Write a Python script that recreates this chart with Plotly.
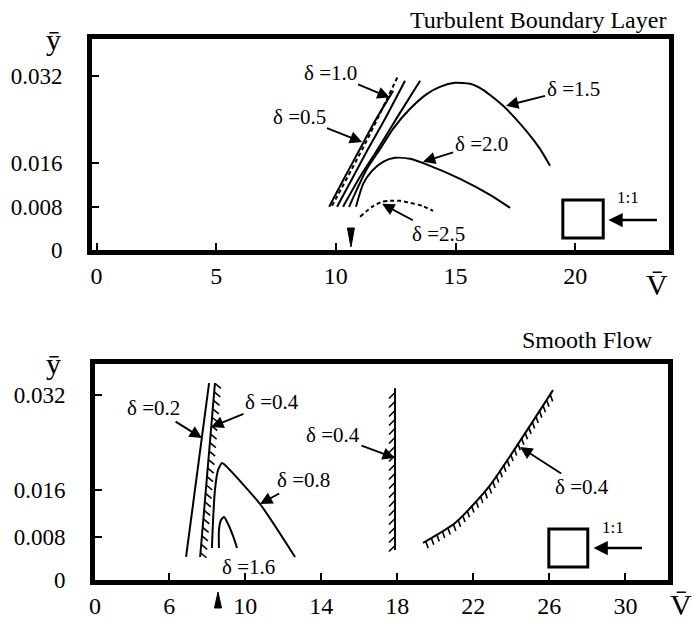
import numpy as np
import plotly.graph_objects as go

W, H = 693, 625
SERIF = "Liberation Serif"

# ---------------- data: top panel (Turbulent Boundary Layer) ----------------
top_xticks = [0, 5, 10, 15, 20]
top_yticks = [0, 0.008, 0.016, 0.032]
top_yticktext = ["0", "0.008", "0.016", "0.032"]

t_d05_x = [9.72, 10.38, 11.01, 11.64, 12.39]
t_d05_y = [0.00796, 0.01349, 0.01865, 0.02381, 0.02934]
t_d10_x = [9.84, 11.22, 12.60]
t_d10_y = [0.00815, 0.01956, 0.0321]
t_l3_x = [10.05, 10.68, 11.35, 12.01, 12.89]
t_l3_y = [0.00796, 0.01312, 0.01865, 0.02381, 0.0312]
t_l4_x = [10.30, 11.01, 11.76, 12.60, 13.52]
t_l4_y = [0.00796, 0.01349, 0.01865, 0.02473, 0.0312]
t_d15_x = [10.55, 10.89, 11.30, 11.85, 12.39, 13.10, 13.81, 14.35, 14.98, 15.61, 16.15, 16.99, 17.99, 18.53, 18.95]
t_d15_y = [0.00796, 0.01128, 0.01497, 0.01865, 0.02234, 0.02603, 0.02879, 0.03008, 0.03082, 0.03064, 0.02953, 0.02658, 0.02179, 0.01865, 0.01552]
t_d20_x = [10.84, 11.14, 11.51, 11.97, 12.47, 13.10, 13.94, 15.19, 16.44, 17.28]
t_d20_y = [0.00796, 0.0122, 0.0146, 0.01626, 0.0170, 0.01681, 0.01552, 0.01312, 0.01017, 0.00778]
t_d25_x = [11.01, 11.51, 11.93, 12.26, 12.68, 13.10, 13.60, 14.06]
t_d25_y = [0.00612, 0.00796, 0.00888, 0.00907, 0.00907, 0.0087, 0.00815, 0.00723]
t_marker_x = 10.63

# ---------------- data: bottom panel (Smooth Flow) ----------------
bot_xticks = [6, 10, 14, 18, 22, 26, 30]
bot_yticks = [0.008, 0.016, 0.032]
bot_yticktext = ["0.008", "0.016", "0.032"]

b_d02_x = [6.89, 8.10]
b_d02_y = [0.0046, 0.03406]
b_d04a_x = [7.63, 8.41]
b_d04a_y = [0.0046, 0.03406]
b_d08_x = [8.25, 8.31, 8.41, 8.57, 8.78, 8.99, 10.78, 12.62]
b_d08_y = [0.00613, 0.01087, 0.01595, 0.01933, 0.02052, 0.02001, 0.01358, 0.0046]
b_d16_x = [8.62, 8.62, 8.73, 8.89, 9.10, 9.36, 9.57]
b_d16_y = [0.00613, 0.00918, 0.01087, 0.01138, 0.01019, 0.00816, 0.00613]
b_d04b_x = [17.88, 17.88]
b_d04b_y = [0.00579, 0.0332]
b_d04c_x = [19.35, 21.04, 22.77, 26.19]
b_d04c_y = [0.00697, 0.01036, 0.01629, 0.03288]
b_marker_x = 8.57


def py2paper(p):
    return 1 - p / H


# ---------------- layout geometry ----------------
TX = [92 / W, 669 / W]
TY = [py2paper(250), py2paper(39)]
BX = [95 / W, 668 / W]
BY = [py2paper(580), py2paper(364)]
T_XR = [-0.19, 23.92]
T_YR = [0.0, 0.0389]
B_XR = [2.1, 32.24]
B_YR = [0.0007, 0.0373]


def scale(dom, rng, total):
    return (dom[1] - dom[0]) * total / (rng[1] - rng[0])


t_sx, t_sy = scale(TX, T_XR, W), scale(TY, T_YR, H)
b_sx, b_sy = scale(BX, B_XR, W), scale(BY, B_YR, H)


def hatch(xs, ys, sx, sy, spacing, dxp, dyp):
    px = np.asarray(xs) * sx
    py = np.asarray(ys) * sy
    seg = np.hypot(np.diff(px), np.diff(py))
    cum = np.concatenate([[0], np.cumsum(seg)])
    s = np.arange(spacing / 2, cum[-1], spacing)
    hx_, hy_ = [], []
    for v in s:
        xp = np.interp(v, cum, px)
        yp = np.interp(v, cum, py)
        hx_ += [xp / sx, (xp + dxp) / sx, None]
        hy_ += [yp / sy, (yp - dyp) / sy, None]
    return hx_, hy_


fig = go.Figure()
LW = 2.0


def line(x, y, xa, ya, dash=None, width=LW):
    fig.add_trace(go.Scatter(x=x, y=y, xaxis=xa, yaxis=ya, mode="lines",
                             line=dict(color="black", width=width, dash=dash, shape="spline", smoothing=0.6),
                             showlegend=False, hoverinfo="skip"))


# top curves
line(t_d05_x, t_d05_y, "x", "y")
line(t_d10_x, t_d10_y, "x", "y", dash="4px,3px")
line(t_l3_x, t_l3_y, "x", "y")
line(t_l4_x, t_l4_y, "x", "y")
line(t_d15_x, t_d15_y, "x", "y")
line(t_d20_x, t_d20_y, "x", "y")
line(t_d25_x, t_d25_y, "x", "y", dash="4px,3px")

# top marker (narrow down-pointing wedge at the axis)
tip_y = 3 / t_sy
top_y = 22 / t_sy
hw = 3.5 / t_sx
fig.add_trace(go.Scatter(x=[t_marker_x - hw, t_marker_x + hw, t_marker_x, t_marker_x - hw],
                         y=[top_y, top_y, tip_y, top_y], xaxis="x", yaxis="y",
                         mode="lines", fill="toself", fillcolor="black",
                         line=dict(color="black", width=1), showlegend=False, hoverinfo="skip"))

# bottom curves
line(b_d02_x, b_d02_y, "x2", "y2")
line(b_d04a_x, b_d04a_y, "x2", "y2")
line(b_d08_x, b_d08_y, "x2", "y2")
line(b_d16_x, b_d16_y, "x2", "y2")
line(b_d04b_x, b_d04b_y, "x2", "y2")
line(b_d04c_x, b_d04c_y, "x2", "y2")

for (xs, ys, sp, dx, dy) in [
    (b_d04a_x, b_d04a_y, 8.5, 6, 5),
    (b_d04b_x, b_d04b_y, 9, -6, 6),
    (b_d04c_x, b_d04c_y, 6.5, 2.5, 7),
]:
    hx, hy = hatch(xs, ys, b_sx, b_sy, sp, dx, dy)
    fig.add_trace(go.Scatter(x=hx, y=hy, xaxis="x2", yaxis="y2", mode="lines",
                             line=dict(color="black", width=1.6), showlegend=False, hoverinfo="skip"))

# bottom marker (up-pointing wedge below the axis) on a helper axis in pixel units
Y3D = [0.0, 0.07]
hw2 = 3.5 / b_sx
y3_top = Y3D[1] * H
fig.add_trace(go.Scatter(x=[b_marker_x - hw2, b_marker_x + hw2, b_marker_x, b_marker_x - hw2],
                         y=[H - 608, H - 608, H - 592, H - 608], xaxis="x2", yaxis="y3",
                         mode="lines", fill="toself", fillcolor="black",
                         line=dict(color="black", width=1), showlegend=False, hoverinfo="skip"))

axis_common = dict(showline=True, linewidth=5, linecolor="black", mirror=True, automargin=False,
                   showgrid=False, zeroline=False, ticks="inside", ticklen=7, tickwidth=2,
                   tickcolor="black")
XF = dict(family=SERIF, size=24, color="black")
YF = dict(family=SERIF, size=23, color="black")

fig.update_layout(
    template="none",
    width=W, height=H, margin=dict(l=0, r=0, t=0, b=0, autoexpand=False),
    paper_bgcolor="white", plot_bgcolor="white", showlegend=False,
    xaxis=dict(domain=TX, range=T_XR, anchor="y", tickvals=top_xticks, tickfont=XF,
               ticklabelstandoff=0, **axis_common),
    yaxis=dict(domain=TY, range=T_YR, anchor="x", tickvals=top_yticks, ticktext=top_yticktext,
               tickfont=YF, ticklabelstandoff=20, **axis_common),
    xaxis2=dict(domain=BX, range=B_XR, anchor="y2", tickvals=[B_XR[0]] + bot_xticks,
                ticktext=["0"] + [str(v) for v in bot_xticks], tickfont=XF,
                ticklabelstandoff=0, **axis_common),
    yaxis2=dict(domain=BY, range=B_YR, anchor="x2", tickvals=[B_YR[0]] + bot_yticks,
                ticktext=["0"] + bot_yticktext, tickfont=YF, ticklabelstandoff=20, **axis_common),
    yaxis3=dict(domain=Y3D, range=[0, y3_top], anchor="x2", visible=False, fixedrange=True,
                automargin=False),
)

LF = dict(family=SERIF, size=21, color="black")
ARW = dict(showarrow=True, arrowhead=2, arrowsize=1.3, arrowwidth=1.9, arrowcolor="black")


def lab(xr, yr, text, cx, cy, tx=None, ty=None):
    if tx is None:
        fig.add_annotation(x=cx, y=cy, xref=xr, yref=yr, text=text, showarrow=False, font=LF,
                           xanchor="center", yanchor="middle")
    else:
        fig.add_annotation(x=tx, y=ty, xref=xr, yref=yr, ax=cx, ay=cy, axref=xr, ayref=yr,
                           text=text, font=LF, **ARW)


# top labels
lab("x", "y", "δ =1.0", 9.76, 0.03266, 12.25, 0.0281)
lab("x", "y", "δ =0.5", 8.46, 0.02455, 11.10, 0.0199)
lab("x", "y", "δ =1.5", 19.91, 0.02971, 17.11, 0.02658)
lab("x", "y", "δ =2.0", 16.07, 0.01958, 13.64, 0.01626)
lab("x", "y", "δ =2.5", 14.27, 0.00299, 11.93, 0.00852)
# bottom labels
lab("x2", "y2", "δ =0.2", 5.20, 0.02983, 7.73, 0.02475)
lab("x2", "y2", "δ =0.4", 11.41, 0.03085, 8.21, 0.02661)
lab("x2", "y2", "δ =0.8", 13.09, 0.01764, 10.78, 0.01358)
lab("x2", "y2", "δ =1.6", 10.15, 0.00291)
lab("x2", "y2", "δ =0.4", 14.62, 0.02526, 17.88, 0.02137)
lab("x2", "y2", "δ =0.4", 27.72, 0.01645, 24.46, 0.02323)

# 1:1 boxes with arrows
for xr, yr, bx0, bx1, by0, by1, axp, ayp, txp, typ in [
    ("x", "y", 0.816, 0.886, 0.057, 0.237, 0.895, 0.142, 0.929, 0.251),
    ("x2", "y2", 0.792, 0.860, 0.060, 0.236, 0.870, 0.148, 0.904, 0.245),
]:
    fig.add_shape(type="rect", xref=xr + " domain", yref=yr + " domain",
                  x0=bx0, x1=bx1, y0=by0, y1=by1, line=dict(color="black", width=3))
    fig.add_annotation(xref=xr + " domain", yref=yr + " domain", x=axp, y=ayp, ax=50, ay=0,
                       text="", showarrow=True, arrowhead=2, arrowsize=1.1, arrowwidth=2.6,
                       arrowcolor="black")
    fig.add_annotation(xref=xr + " domain", yref=yr + " domain", x=txp, y=typ, text="1:1",
                       showarrow=False, xanchor="center", yanchor="middle",
                       font=dict(family=SERIF, size=17, color="black"))

# titles and axis labels
fig.add_annotation(xref="paper", yref="paper", x=668 / W, y=py2paper(20), xanchor="right", yanchor="middle",
                   text="Turbulent Boundary Layer", showarrow=False,
                   font=dict(family=SERIF, size=24, color="black"))
fig.add_annotation(xref="paper", yref="paper", x=655 / W, y=py2paper(340), xanchor="right", yanchor="middle",
                   text="Smooth Flow", showarrow=False, font=dict(family=SERIF, size=24, color="black"))
for yy in [39, 363]:
    fig.add_annotation(xref="paper", yref="paper", x=53 / W, y=py2paper(yy), text="ȳ",
                       xanchor="center", yanchor="middle",
                       showarrow=False, font=dict(family=SERIF, size=30, color="black"))
for xx, yy in [(657, 284), (681, 604)]:
    fig.add_annotation(xref="paper", yref="paper", x=xx / W, y=py2paper(yy), text="V\u0304",
                       xanchor="center", yanchor="middle",
                       showarrow=False, font=dict(family=SERIF, size=30, color="black"))

fig.write_html("out.html")
